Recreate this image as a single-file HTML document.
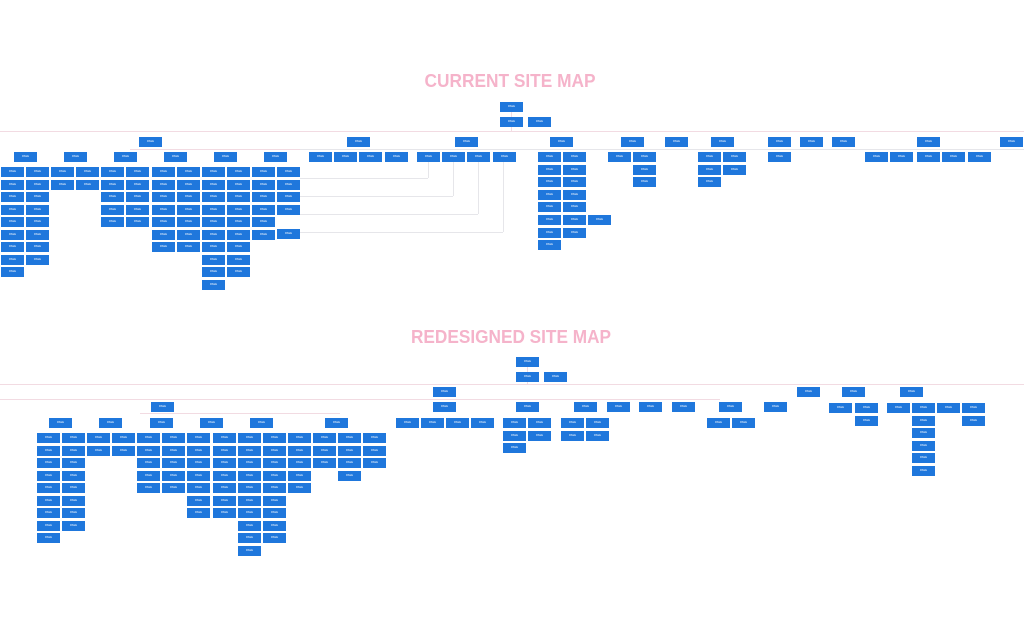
<!DOCTYPE html>
<html><head><meta charset="utf-8">
<style>
html,body{margin:0;padding:0;background:#fff;}
body{width:1024px;height:636px;position:relative;overflow:hidden;font-family:"Liberation Sans",sans-serif;}
.b{position:absolute;width:23px;height:10px;background:#1f77dc;color:#fff;font-size:2.5px;line-height:10px;text-align:center;overflow:hidden;white-space:nowrap;}
.l{position:absolute;background:#f2dbe2;}
.g{position:absolute;background:#e6e6ea;}
svg{position:absolute;left:0;top:0;}
</style></head><body>
<svg width="1024" height="636">
<text x="510" y="87" text-anchor="middle" font-family="Liberation Sans" font-weight="bold" font-size="18" fill="#f5b3ca" textLength="171" lengthAdjust="spacingAndGlyphs">CURRENT SITE MAP</text>
<text x="511" y="343" text-anchor="middle" font-family="Liberation Sans" font-weight="bold" font-size="18" fill="#f5b3ca" textLength="200" lengthAdjust="spacingAndGlyphs">REDESIGNED SITE MAP</text>
</svg>
<div id="c"></div>
<script>
var c=document.getElementById('c'),h='';
function L(x,y,w,hh,cl){h+='<div class="'+(cl||'l')+'" style="left:'+x+'px;top:'+y+'px;width:'+w+'px;height:'+hh+'px"></div>';}
function B(x,y){h+='<div class="b" style="left:'+x+'px;top:'+y+'px">PAGE</div>';}
function C(x,y,n,p){for(var i=0;i<n;i++)B(x,Math.round(y+i*p));}
// TOP lines
L(0,131,1024,1);L(130,149,170,1);L(300,149,724,1,'g');
L(511,112,1,19);
// DIY connectors
[[428,178],[453,196],[478,214],[503,232]].forEach(function(a){L(300,a[1],a[0]-300,1,'g');L(a[0],162,1,a[1]-162,'g');});
// TOP boxes
B(500,102);B(500,117);B(528,117);
[139,347,455,550,621,665,711,768,800,832,917,1000].forEach(function(x){B(x,137);});
[14,64,114,164,214,264,309,334,359,385,417,442,467,493].forEach(function(x){B(x,152);});
var pc=[[1,9],[26,8],[51,2],[76,2],[101,5],[126,5],[152,7],[177,7],[202,10],[227,9],[252,6],[277,4]];
pc.forEach(function(a){C(a[0],167,a[1],12.5);});B(277,229);
C(538,152,8,12.6);C(563,152,7,12.6);B(588,215);
B(608,152);C(633,152,3,12.5);
C(698,152,3,12.5);C(723,152,2,12.5);B(768,152);
[865,890,917,942,968].forEach(function(x){B(x,152);});
// BOTTOM lines
L(0,384,1024,1);L(0,399,720,1);L(140,413,200,1);L(527,367,1,17);
// BOTTOM boxes
B(516,357);B(516,372);B(544,372);
B(433,387);B(797,387);B(842,387);B(900,387);
[151,433,516,574,607,639,672,719,764].forEach(function(x){B(x,402);});
[49,99,150,200,250,325].forEach(function(x){B(x,418);});
[396,421,446,471].forEach(function(x){B(x,418);});
C(503,418,3,12.5);C(528,418,2,12.5);C(561,418,2,12.5);C(586,418,2,12.5);
B(707,418);B(732,418);
B(829,403);C(855,403,2,12.5);
[887,937].forEach(function(x){B(x,403);});C(912,403,6,12.5);C(962,403,2,12.5);
var bc=[[37,9],[62,8],[87,2],[112,2],[137,5],[162,5],[187,7],[213,7],[238,10],[263,9],[288,5],[313,3],[338,4],[363,3]];
bc.forEach(function(a){C(a[0],433,a[1],12.5);});
c.innerHTML=h;
</script>
</body></html>
